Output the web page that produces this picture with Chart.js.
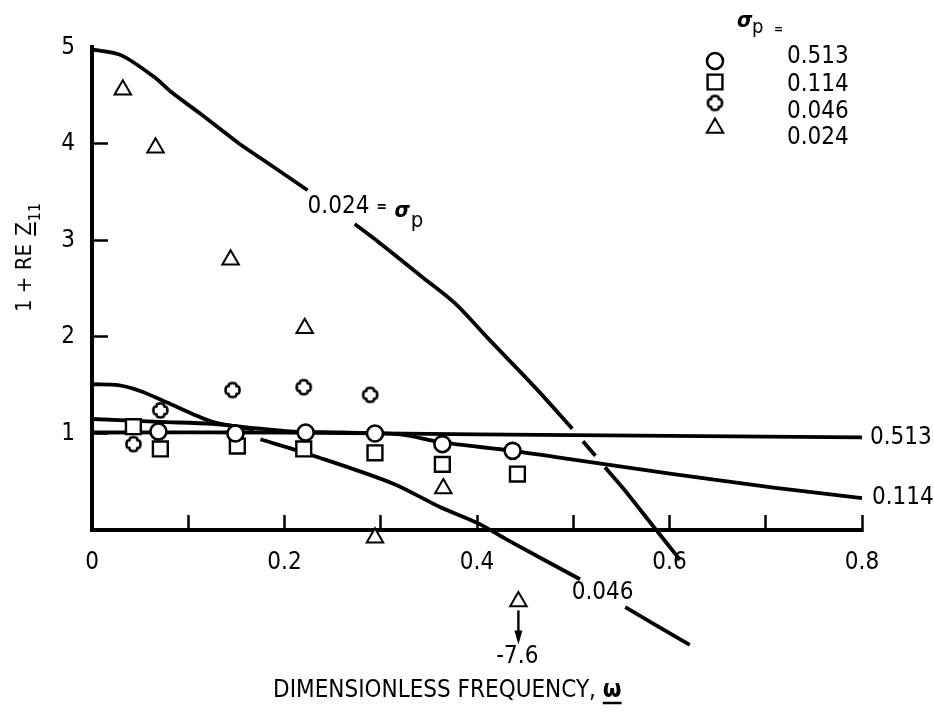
<!DOCTYPE html>
<html>
<head>
<meta charset="utf-8">
<script src="https://cdn.jsdelivr.net/npm/chart.js@4.4.1/dist/chart.umd.min.js"></script>
<style>
  html, body { margin: 0; padding: 0; background: #fff; }
  canvas { display: block; }
</style>
</head>
<body>
<canvas id="chart" width="934" height="712"></canvas>
<script>
const FONT = "'Liberation Sans Narrow', 'DejaVu Sans Condensed', sans-serif";

// Axis ticks
const xTickValues = [0, 0.1, 0.2, 0.3, 0.4, 0.5, 0.6, 0.7, 0.8];
const xTickLabels = ['0', '', '0.2', '', '0.4', '', '0.6', '', '0.8'];
const yTickValues = [0, 1, 2, 3, 4, 5];
const yTickLabels = ['', '1', '2', '3', '4', '5'];

// Porosity parameter of each series
const sigmaP = ['0.513', '0.114', '0.046', '0.024'];

// Measured points: dimensionless frequency and 1 + Re Z11
const omega513 = [0.069, 0.149, 0.222, 0.294, 0.364, 0.437];
const data513  = [1.02, 1.00, 1.01, 1.00, 0.89, 0.82];
const omega114 = [0.043, 0.071, 0.151, 0.220, 0.294, 0.364, 0.442];
const data114  = [1.07, 0.84, 0.87, 0.84, 0.80, 0.68, 0.58];
const omega046 = [0.043, 0.071, 0.146, 0.220, 0.289];
const data046  = [0.89, 1.24, 1.45, 1.48, 1.40];
const omega024 = [0.032, 0.066, 0.144, 0.221, 0.294, 0.365, 0.443];
const data024  = [4.56, 3.96, 2.80, 2.09, -0.08, 0.43, -7.6];

// Theory curves (null leaves a break in the drawn line)
const curveW513 = [0, 0.2, 0.4, 0.6, 0.8];
const curve513  = [1.01, 1.01, 0.99, 0.975, 0.96];
const curveW114 = [0, 0.07, 0.125, 0.175, 0.21, 0.26, 0.32, 0.362, 0.437, 0.5, 0.604, 0.708, 0.8];
const curve114  = [1.15, 1.12, 1.10, 1.05, 1.02, 1.01, 0.99, 0.91, 0.82, 0.73, 0.58, 0.44, 0.33];
const curveW046 = [0, 0.027, 0.05, 0.078, 0.105, 0.125, 0.15, 0.168, 0.171, 0.175, 0.23, 0.313, 0.362, 0.401, 0.431, 0.507, 0.53, 0.554, 0.621];
const curve046  = [1.51, 1.50, 1.44, 1.32, 1.20, 1.12, 1.07, 1.04, null, 0.94, 0.77, 0.48, 0.235, 0.07, -0.10, -0.51, null, -0.80, -1.19];
const curveW024 = [0, 0.03, 0.065, 0.082, 0.113, 0.152, 0.183, 0.224, 0.25, 0.273, 0.297, 0.342, 0.377, 0.411, 0.462, 0.499, 0.505, 0.510, 0.523, 0.527, 0.533, 0.552, 0.583, 0.611];
const curve024  = [4.98, 4.92, 4.69, 4.54, 4.31, 4.01, 3.80, 3.52, null, 3.17, 2.99, 2.63, 2.35, 1.99, 1.46, 1.05, null, 0.92, 0.77, null, 0.65, 0.43, 0.04, -0.31];

// Readings far below the axis are plotted at this level with an arrow
const OFFSCALE_LIMIT = -1.5;
const OFFSCALE_LEVEL = -0.74;

const pts = (xs, ys) => xs.map((x, i) => ({ x: x, y: ys[i] }));
const clampPts = (xs, ys) => xs.map((x, i) => ({ x: x, y: ys[i] < OFFSCALE_LIMIT ? OFFSCALE_LEVEL : ys[i] }));

// Circle with four small dents, used for the 0.046 points
function dentedCircle(R, lw) {
  const s = Math.ceil(2 * R + lw + 4);
  const c = document.createElement('canvas');
  c.width = s; c.height = s;
  const g = c.getContext('2d');
  g.translate(s / 2, s / 2);
  g.beginPath();
  for (let i = 0; i <= 120; i++) {
    const t = i / 120 * 2 * Math.PI;
    const d = (t % (Math.PI / 2)) - Math.PI / 4;
    const r = R - 1.4 * Math.exp(-(d * d) / (2 * 0.13 * 0.13));
    const px = r * Math.cos(t), py = r * Math.sin(t);
    if (i === 0) g.moveTo(px, py); else g.lineTo(px, py);
  }
  g.closePath();
  g.fillStyle = '#fff';
  g.fill();
  g.lineWidth = lw;
  g.strokeStyle = '#000';
  g.stroke();
  return c;
}
const dented = dentedCircle(7, 2.6);

const markerStyles = [
  { pointStyle: 'circle', radius: 8, borderWidth: 2.6 },
  { pointStyle: 'rect', radius: 10.5, borderWidth: 2.4 },
  { pointStyle: dented, radius: 7, borderWidth: 0 },
  { pointStyle: 'triangle', radius: 9.5, borderWidth: 2 }
];

function curveSet(xs, ys) {
  return {
    type: 'line', data: pts(xs, ys), borderColor: '#000', borderWidth: 3.8,
    pointRadius: 0, tension: 0.3, spanGaps: false, fill: false, clip: false, order: 1
  };
}
function markerSet(label, data, m) {
  return {
    type: 'line', label: label, data: data, showLine: false,
    pointStyle: m.pointStyle, pointRadius: m.radius, pointBorderWidth: m.borderWidth,
    pointBackgroundColor: '#fff', pointBorderColor: '#000', clip: false, order: 0
  };
}

const datasets = [
  markerSet(sigmaP[0], pts(omega513, data513), markerStyles[0]),
  markerSet(sigmaP[1], pts(omega114, data114), markerStyles[1]),
  markerSet(sigmaP[2], pts(omega046, data046), markerStyles[2]),
  markerSet(sigmaP[3], clampPts(omega024, data024), markerStyles[3]),
  curveSet(curveW513, curve513),
  curveSet(curveW114, curve114),
  curveSet(curveW046, curve046),
  curveSet(curveW024, curve024)
];

function drawMarker(ctx, m, x, y) {
  ctx.save();
  ctx.fillStyle = '#fff';
  ctx.strokeStyle = '#000';
  ctx.lineWidth = m.borderWidth;
  if (Chart.helpers && Chart.helpers.drawPoint) {
    Chart.helpers.drawPoint(ctx, { pointStyle: m.pointStyle, radius: m.radius, rotation: 0, borderWidth: m.borderWidth }, x, y);
  }
  ctx.restore();
}

// Point elements lying below the plotting area are skipped by the
// default pass; draw those elements again with the whole canvas as area.
const belowAxisPoints = {
  id: 'belowAxisPoints',
  afterDatasetsDraw(chart) {
    const a = chart.chartArea;
    const full = { left: 0, top: 0, right: chart.width, bottom: chart.height };
    chart.data.datasets.forEach((ds, di) => {
      if (ds.showLine !== false) return;
      chart.getDatasetMeta(di).data.forEach(el => {
        const r = el.options.radius + 1;
        if (el.y - r > a.bottom || el.y + r < a.top) el.draw(chart.ctx, full);
      });
    });
  }
};

const annotations = {
  id: 'annotations',
  afterDraw(chart) {
    const ctx = chart.ctx;
    const xs = chart.scales.x, ys = chart.scales.y;
    const px = v => xs.getPixelForValue(v), py = v => ys.getPixelForValue(v);
    ctx.save();
    ctx.fillStyle = '#000';
    ctx.strokeStyle = '#000';
    ctx.textBaseline = 'middle';
    ctx.font = '24px ' + FONT;

    // Labels at the right-hand ends of the 0.513 and 0.114 curves
    ctx.textAlign = 'left';
    ctx.fillText(sigmaP[0], px(curveW513[curveW513.length - 1]) + 8, py(curve513[curve513.length - 1]));
    ctx.fillText(sigmaP[1], px(curveW114[curveW114.length - 1]) + 10, py(curve114[curve114.length - 1]));

    // 0.046 label sits in the break of its curve
    const g46 = curve046.lastIndexOf(null);
    ctx.textAlign = 'center';
    ctx.fillText(sigmaP[2],
      (px(curveW046[g46 - 1]) + px(curveW046[g46 + 1])) / 2,
      (py(curve046[g46 - 1]) + py(curve046[g46 + 1])) / 2);

    // 0.024 = σp label in the break of its curve
    const g24 = curve024.indexOf(null);
    let lx = px(curveW024[g24 - 1]);
    const ly = (py(curve024[g24 - 1]) + py(curve024[g24 + 1])) / 2;
    ctx.textAlign = 'left';
    ctx.fillText(sigmaP[3], lx, ly);
    lx += ctx.measureText(sigmaP[3]).width + 7;
    ctx.font = 'bold 14px ' + FONT;
    ctx.fillText('=', lx, ly);
    lx += 18;
    ctx.font = 'italic bold 22px ' + FONT;
    ctx.fillText('σ', lx, ly + 4);
    lx += ctx.measureText('σ').width + 1;
    ctx.font = '22px ' + FONT;
    ctx.fillText('p', lx, ly + 14);

    // Off-scale reading: arrow down to its value
    const meta = chart.getDatasetMeta(3);
    data024.forEach((v, i) => {
      if (v >= OFFSCALE_LIMIT) return;
      const el = meta.data[i];
      const ax = el.x, top = el.y + 9, tip = el.y + 43;
      ctx.lineWidth = 2.4;
      ctx.beginPath(); ctx.moveTo(ax, top); ctx.lineTo(ax, tip - 10); ctx.stroke();
      ctx.beginPath(); ctx.moveTo(ax - 4, tip - 14); ctx.lineTo(ax + 4, tip - 14); ctx.lineTo(ax, tip); ctx.closePath(); ctx.fill();
      ctx.font = '24px ' + FONT;
      ctx.textAlign = 'center';
      ctx.fillText(String(v), ax - 1, tip + 12);
    });

    // x-axis title
    ctx.font = '24px ' + FONT;
    ctx.textAlign = 'left';
    const xt = 'DIMENSIONLESS FREQUENCY, ';
    const tx = 273, tyy = 691;
    ctx.fillText(xt, tx, tyy);
    const wx = tx + ctx.measureText(xt).width;
    ctx.font = 'bold 24px ' + FONT;
    ctx.fillText('ω', wx, tyy);
    const ww = ctx.measureText('ω').width;
    ctx.lineWidth = 2.5;
    ctx.beginPath(); ctx.moveTo(wx, tyy + 12); ctx.lineTo(wx + ww, tyy + 12); ctx.stroke();

    // y-axis title, reading upwards
    ctx.save();
    ctx.translate(31, 312);
    ctx.rotate(-Math.PI / 2);
    ctx.textBaseline = 'alphabetic';
    ctx.textAlign = 'left';
    ctx.font = '22px ' + FONT;
    const yt = '1 + RE ';
    ctx.fillText(yt, 0, 0);
    let yx = ctx.measureText(yt).width + 2;
    ctx.fillText('Z', yx, 0);
    const zw = ctx.measureText('Z').width;
    ctx.lineWidth = 2;
    ctx.beginPath(); ctx.moveTo(yx, 4); ctx.lineTo(yx + zw, 4); ctx.stroke();
    ctx.font = '16px ' + FONT;
    ctx.fillText('11', yx + zw + 1, 9);
    ctx.restore();

    // Key
    ctx.textBaseline = 'alphabetic';
    ctx.textAlign = 'left';
    ctx.font = 'italic bold 22px ' + FONT;
    ctx.fillText('σ', 737, 27);
    ctx.font = '20px ' + FONT;
    ctx.fillText('p', 752, 33);
    ctx.font = 'bold 12px ' + FONT;
    ctx.fillText('=', 774, 33);
    const keyMarkY = [61, 82, 103, 128];
    const keyTextY = [57, 85, 112, 138];
    ctx.font = '24px ' + FONT;
    ctx.textBaseline = 'middle';
    markerStyles.forEach((m, i) => {
      drawMarker(ctx, m, 715, keyMarkY[i]);
      ctx.fillStyle = '#000';
      ctx.fillText(sigmaP[i], 787, keyTextY[i]);
    });
    ctx.restore();
  }
};

const tickFont = { family: FONT, size: 24 };

new Chart(document.getElementById('chart').getContext('2d'), {
  type: 'line',
  data: { datasets: datasets },
  options: {
    responsive: false,
    animation: false,
    devicePixelRatio: 1,
    events: [],
    layout: { padding: { top: 40, right: 72, left: 0, bottom: 0 } },
    plugins: { legend: { display: false }, tooltip: { enabled: false }, title: { display: false } },
    scales: {
      x: {
        type: 'linear', min: 0, max: 0.8,
        afterFit: s => { s.height = 182; },
        afterBuildTicks: s => { s.ticks = xTickValues.map(v => ({ value: v })); },
        ticks: {
          autoSkip: false, maxRotation: 0, padding: 33, color: '#000', font: tickFont,
          callback: (v, i) => xTickLabels[i]
        },
        grid: {
          drawOnChartArea: false, tickLength: -15, tickWidth: 2.5,
          tickColor: c => (c.tick && c.tick.value === 0) ? 'rgba(0,0,0,0)' : '#000'
        },
        border: { display: true, color: '#000', width: 4 }
      },
      y: {
        type: 'linear', min: 0, max: 5,
        afterFit: s => { s.width = 92; },
        afterBuildTicks: s => { s.ticks = yTickValues.map(v => ({ value: v })); },
        ticks: {
          autoSkip: false, padding: 33, color: '#000', font: tickFont,
          callback: (v, i) => yTickLabels[i]
        },
        grid: {
          drawOnChartArea: false, tickLength: -16, tickWidth: 2.5,
          tickColor: c => (c.tick && (c.tick.value === 0 || c.tick.value === 5)) ? 'rgba(0,0,0,0)' : '#000'
        },
        border: { display: true, color: '#000', width: 4 }
      }
    }
  },
  plugins: [belowAxisPoints, annotations]
});
</script>
</body>
</html>
